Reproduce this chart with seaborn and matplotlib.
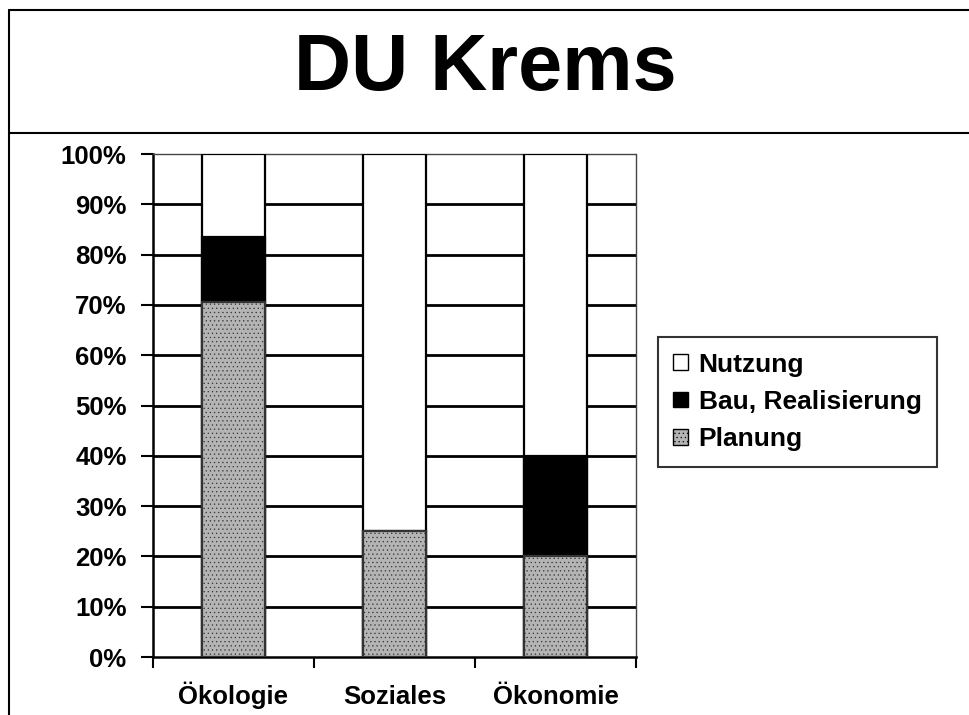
import matplotlib
matplotlib.use("Agg")
import matplotlib.pyplot as plt
from matplotlib.lines import Line2D
from matplotlib.patches import Patch
from matplotlib.ticker import PercentFormatter, FixedLocator
import pandas as pd
import seaborn as sns

# data (percent of each column)
categories = ["Ökologie", "Soziales", "Ökonomie"]
planung = [70.5, 25.0, 20.0]
bau = [13.0, 0.0, 20.0]
nutzung = [16.5, 75.0, 60.0]
series_names = ["Nutzung", "Bau, Realisierung", "Planung"]
title_text = "DU Krems"

df = pd.DataFrame({"kategorie": categories, "Planung": planung,
                   "Bau": bau, "Nutzung": nutzung})
df["cum_bau"] = df["Planung"] + df["Bau"]
df["cum_all"] = df["cum_bau"] + df["Nutzung"]

sns.set_style("white")
plt.rcParams["font.family"] = ["Liberation Sans", "DejaVu Sans"]
plt.rcParams["font.weight"] = "bold"
plt.rcParams["text.color"] = "black"
plt.rcParams["xtick.color"] = "black"
plt.rcParams["ytick.color"] = "black"
plt.rcParams["hatch.linewidth"] = 0.4

fig = plt.figure(figsize=(9.7, 7.15), dpi=100)
ax = fig.add_axes([0.1577, 0.0811, 0.4980, 0.7035])

GRAY = "#b4b4b4"
bar_kw = dict(width=0.39, edgecolor="black", linewidth=1.6, zorder=3, ax=ax)

# stacked bars: draw cumulative totals back to front
sns.barplot(data=df, x="kategorie", y="cum_all", color="white", **bar_kw)
sns.barplot(data=df, x="kategorie", y="cum_bau", color="black", **bar_kw)
sns.barplot(data=df, x="kategorie", y="Planung", color=GRAY, **bar_kw)
for p in ax.patches[-3:]:
    p.set_hatch("....")
    p.set_edgecolor("#333333")

ax.set_xlim(-0.5, 2.5)
ax.set_ylim(0, 100)
ax.set_xlabel("")
ax.set_ylabel("")

# gridlines
for y in range(10, 100, 10):
    ax.axhline(y, color="black", lw=2.0, zorder=1)

ax.yaxis.set_major_locator(FixedLocator(range(0, 101, 10)))
ax.yaxis.set_major_formatter(PercentFormatter(100, decimals=0))
ax.tick_params(axis="y", direction="out", length=9, width=1.5,
               labelsize=18.5, pad=10, left=True, labelcolor="black")
ax.set_xticks([-0.5, 0.5, 1.5, 2.5], minor=True)
ax.tick_params(axis="x", which="minor", direction="out", length=8, width=1.5,
               bottom=True)
ax.tick_params(axis="x", which="major", length=0, labelsize=18.5, pad=34,
               labelcolor="black")
for lab in ax.get_xticklabels():
    lab.set_fontweight("bold")
    lab.set_verticalalignment("baseline")
for lab in ax.get_yticklabels():
    lab.set_fontweight("bold")

for side in ["left", "bottom"]:
    ax.spines[side].set_color("black")
    ax.spines[side].set_linewidth(1.8)
for side in ["top", "right"]:
    ax.spines[side].set_color("#444444")
    ax.spines[side].set_linewidth(1.0)
    ax.spines[side].set_linestyle((0, (1, 1)))

# legend
handles = [
    Patch(facecolor="white", edgecolor="black", lw=1, label=series_names[0]),
    Patch(facecolor="black", edgecolor="black", lw=1, label=series_names[1]),
    Patch(facecolor=GRAY, edgecolor="black", lw=1, hatch="....",
          label=series_names[2]),
]
leg = fig.legend(handles=handles, loc="upper left",
                 bbox_to_anchor=(0.678, 0.529), bbox_transform=fig.transFigure,
                 fancybox=False, frameon=True, edgecolor="black",
                 prop={"size": 19, "weight": "bold"},
                 handlelength=0.55, handleheight=0.55, handletextpad=0.4,
                 labelspacing=0.5, borderpad=0.6, borderaxespad=0)
leg.get_frame().set_linewidth(1.5)
for t in leg.get_texts():
    t.set_color("black")

# title box
fig.text(0.5, 0.903, title_text, ha="center", va="center", fontsize=57,
         fontweight="bold", color="black")
fig.add_artist(Line2D([0.0093, 1.0], [0.986, 0.986], color="black", lw=1.5))
fig.add_artist(Line2D([0.0093, 0.0093], [0.0, 0.986], color="black", lw=1.5))
fig.add_artist(Line2D([0.0093, 1.0], [0.814, 0.814], color="black", lw=1.5))

fig.savefig("out.png", dpi=100, facecolor="white")
plt.close(fig)
